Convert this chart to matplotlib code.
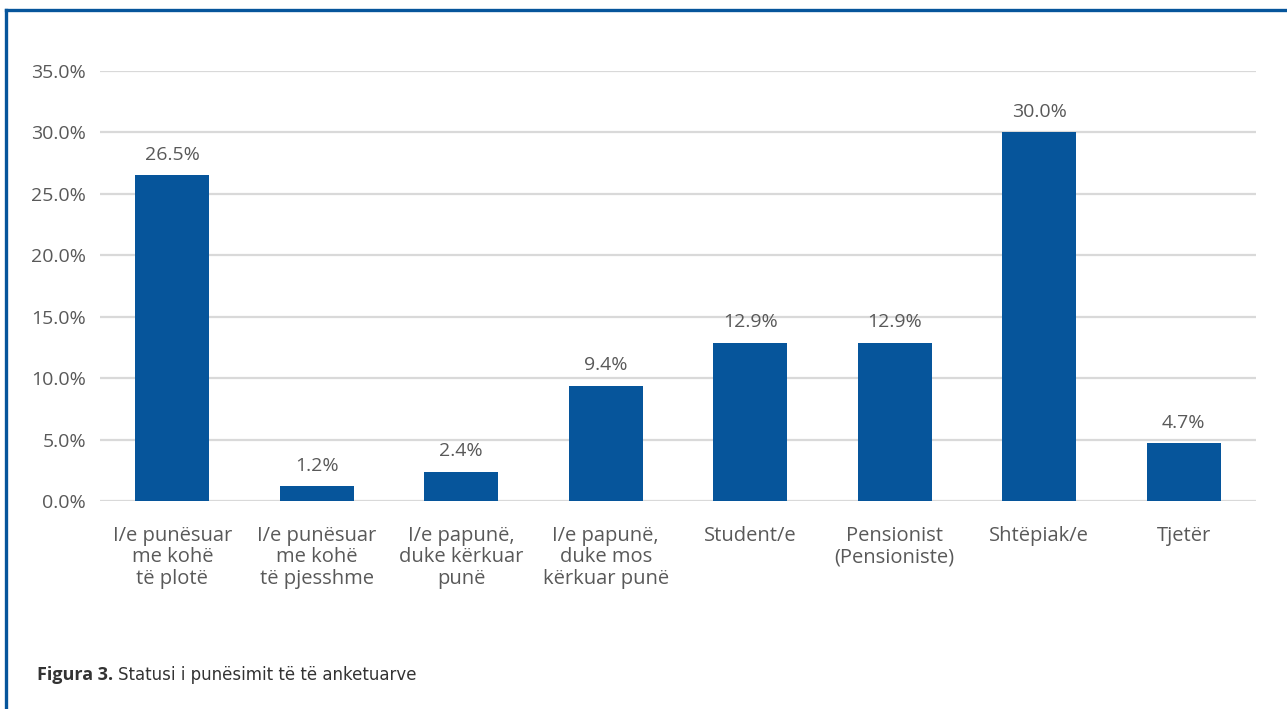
import matplotlib.pyplot as plt
from matplotlib.lines import Line2D
import numpy as np

plt.rcParams['font.family'] = ['Open Sans', 'DejaVu Sans']

kategorite = ['I/e punësuar\nme kohë\ntë plotë',
              'I/e punësuar\nme kohë\ntë pjesshme',
              'I/e papunë,\nduke kërkuar\npunë',
              'I/e papunë,\nduke mos\nkërkuar punë',
              'Student/e',
              'Pensionist\n(Pensioniste)',
              'Shtëpiak/e',
              'Tjetër']
vlerat = [26.5, 1.2, 2.4, 9.4, 12.9, 12.9, 30.0, 4.7]
yticks = [0, 5, 10, 15, 20, 25, 30, 35]

blu = '#06559b'
gri = '#595959'

fig = plt.figure(figsize=(12.87, 7.09), dpi=100)
ax = fig.add_axes([100/1287, 1-501/709, 1156/1287, 430/709])

x = np.arange(len(vlerat))
ax.bar(x, vlerat, width=0.51, color=blu, zorder=3)
for xi, v in zip(x, vlerat):
    ax.annotate(f'{v:.1f}%', (xi, v), xytext=(0, 8), textcoords='offset points',
                ha='center', va='bottom', fontsize=14, color=gri)

ax.set_xlim(-0.5, len(vlerat) - 0.5)
ax.set_ylim(0, 35)
ax.set_yticks(yticks)
ax.set_yticklabels([f'{t:.1f}%' for t in yticks], fontsize=14, color=gri)
ax.set_xticks(x)
ax.set_xticklabels(kategorite, fontsize=14.5, color=gri, linespacing=1.1)
ax.tick_params(axis='both', length=0)
ax.tick_params(axis='y', pad=10)
ax.tick_params(axis='x', pad=18)
ax.grid(axis='y', color='#d9d9d9', linewidth=1.6, zorder=0)
for s in ax.spines.values():
    s.set_visible(False)

# korniza blu
fig.add_artist(Line2D([6/1287, 6/1287], [0, 1-10/709], color=blu, linewidth=2.4))
fig.add_artist(Line2D([6/1287, 1], [1-10/709, 1-10/709], color=blu, linewidth=2.4))

fig.text(37/1287, 1-675/709, 'Figura 3.', fontsize=13, fontweight='bold',
         color='#333333', va='center')
fig.text(118/1287, 1-675/709, 'Statusi i punësimit të të anketuarve', fontsize=12,
         color='#333333', va='center', family=['Liberation Sans Narrow', 'DejaVu Sans'])

fig.savefig('out.png', dpi=100)
